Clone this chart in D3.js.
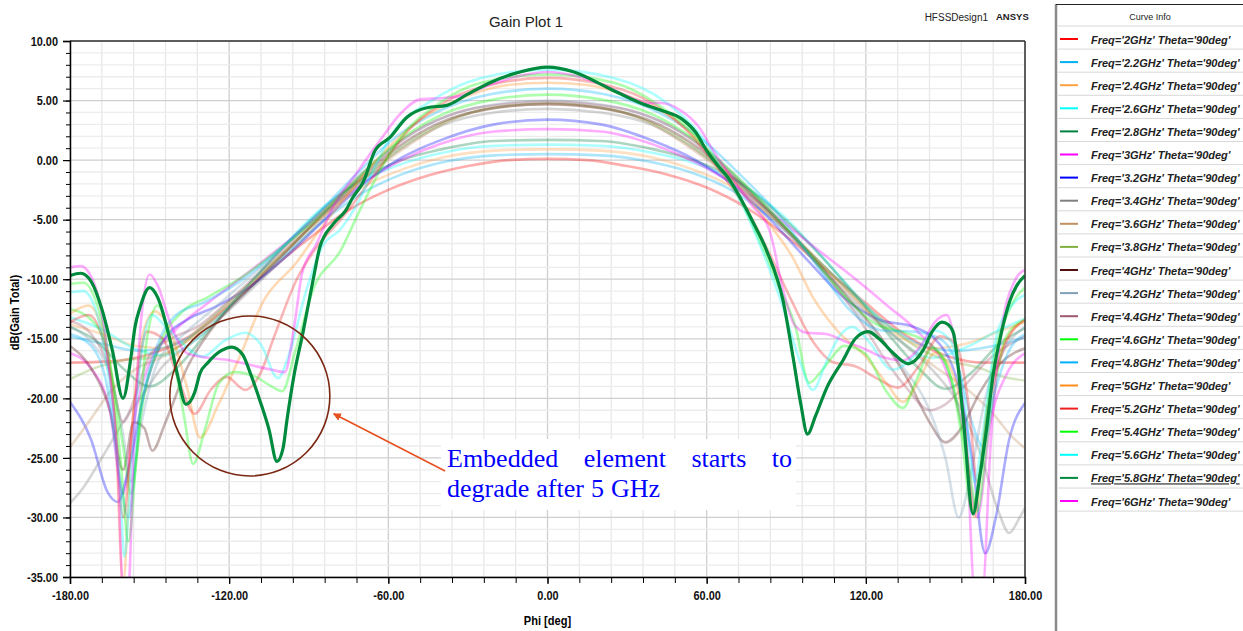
<!DOCTYPE html>
<html>
<head>
<meta charset="utf-8">
<script src="https://cdn.jsdelivr.net/npm/d3@7"></script>
<style>
  html, body { margin: 0; padding: 0; background: #fff; }
  svg { display: block; }
</style>
</head>
<body>
<svg id="chart" width="1243" height="631"></svg>
<script>
// Axis ticks
const phiTicks = [-180, -120, -60, 0, 60, 120, 180];
const dbTicks = [-35, -30, -25, -20, -15, -10, -5, 0, 5, 10];

// Legend entries and curve colours
const frequencies = ['2GHz', '2.2GHz', '2.4GHz', '2.6GHz', '2.8GHz', '3GHz', '3.2GHz', '3.4GHz',
  '3.6GHz', '3.8GHz', '4GHz', '4.2GHz', '4.4GHz', '4.6GHz', '4.8GHz', '5GHz', '5.2GHz',
  '5.4GHz', '5.6GHz', '5.8GHz', '6GHz'];
const curveColors = ['#ff0000', '#00b0f0', '#ffa040', '#00ffff', '#00803f', '#ff00ff', '#0000ff',
  '#808080', '#c09060', '#80b040', '#501010', '#80a0b8', '#a05870', '#00ff00', '#00b0ff',
  '#ff8c1a', '#ee2020', '#00ff00', '#00ffff', '#008a3e', '#ff00ff'];
const selectedFrequency = '5.8GHz';

// Gain (dB) versus phi (deg), Theta = 90deg
const gain2_0 = [[-180,-17],[-165,-16.9],[-150,-16.3],[-135,-14.8],[-120,-12.2],[-105,-9.3],[-90,-6.6],[-75,-4.2],[-60,-2.5],[-45,-1.3],[-30,-0.5],[-15,0],[0,0.1],[15,0],[30,-0.5],[45,-1.2],[60,-2.3],[75,-4],[90,-6.4],[105,-9.2],[120,-12],[135,-14.7],[150,-16.4],[165,-17],[180,-17]];
const gain2_2 = [[-180,-14.8],[-168,-15.4],[-155,-16],[-142,-15.6],[-128,-13.8],[-115,-11.3],[-100,-8.2],[-85,-5.2],[-70,-2.8],[-55,-1.2],[-40,-0.2],[-20,0.4],[0,0.5],[20,0.4],[40,-0.2],[55,-1.1],[70,-2.6],[85,-5],[100,-8],[115,-11.2],[128,-13.8],[142,-15.6],[155,-16],[168,-15.6],[180,-14.9]];
const gain2_4 = [[-180,-13.8],[-168,-14.6],[-155,-15.6],[-142,-15.8],[-130,-14.2],[-115,-11.2],[-100,-7.9],[-85,-4.8],[-70,-2.3],[-55,-0.8],[-40,0.2],[-20,0.8],[0,0.9],[20,0.8],[40,0.2],[55,-0.8],[70,-2.3],[85,-4.9],[100,-8],[115,-11.4],[130,-14.4],[145,-15.8],[158,-15.4],[170,-14.4],[180,-13.6]];
const gain2_6 = [[-180,-13.2],[-168,-14.2],[-156,-15.8],[-145,-16.4],[-132,-15],[-118,-11.8],[-103,-8.1],[-88,-4.6],[-72,-2],[-56,-0.4],[-40,0.6],[-20,1.2],[0,1.3],[20,1.2],[40,0.6],[56,-0.3],[72,-1.9],[88,-4.5],[103,-8],[118,-11.7],[132,-15],[145,-16.6],[157,-15.8],[170,-14.3],[180,-13.3]];
const gain2_8 = [[-180,-14],[-170,-15.2],[-160,-17.5],[-150,-19],[-140,-17.5],[-128,-14.4],[-114,-10.8],[-100,-7.4],[-85,-4.2],[-70,-1.6],[-55,0],[-40,0.9],[-20,1.6],[0,1.7],[20,1.6],[40,0.9],[55,0],[70,-1.5],[85,-4.1],[100,-7.3],[114,-10.8],[128,-14.5],[140,-17.5],[150,-19.2],[160,-17.8],[170,-15.5],[180,-14.1]];
const gain3_0 = [[-180,-16.2],[-172,-17.5],[-165,-21],[-160,-28],[-156,-22],[-150,-17],[-140,-14.2],[-128,-12],[-115,-9.8],[-100,-7.2],[-85,-4.5],[-70,-2],[-55,0],[-40,1.4],[-20,2.4],[0,2.6],[20,2.4],[40,1.3],[55,-0.1],[70,-2],[85,-4.5],[100,-7.2],[115,-9.8],[128,-12.2],[140,-14.5],[150,-17.5],[157,-23],[162,-30],[167,-22],[173,-18],[180,-16.2]];
const gain3_2 = [[-180,-20.3],[-172,-23.5],[-166,-27.8],[-162,-28.7],[-158,-26],[-152,-19.5],[-145,-15.2],[-135,-13.3],[-125,-12.3],[-112,-10.6],[-98,-8],[-84,-5],[-70,-2.1],[-55,0.2],[-40,1.7],[-20,3],[0,3.4],[20,3],[40,1.6],[55,0.1],[70,-2.1],[84,-5],[98,-8.4],[112,-11.6],[125,-13.4],[138,-14],[148,-15.5],[155,-19],[160,-25],[165,-33],[169,-30],[174,-23.5],[180,-20.4]];
const gain3_4 = [[-180,-28.8],[-175,-27.5],[-168,-25],[-160,-22],[-152,-19.5],[-145,-17.3],[-135,-15.5],[-122,-13],[-110,-10.5],[-96,-7.5],[-82,-4.3],[-68,-1.3],[-55,1],[-40,2.9],[-20,4],[0,4.3],[20,4],[40,2.9],[55,1],[68,-1.2],[82,-4.2],[96,-7.4],[110,-10.6],[122,-13.2],[135,-15.6],[145,-17.6],[155,-20.5],[163,-24.5],[170,-29.5],[174,-31.3],[178,-30],[180,-29.2]];
const gain3_6 = [[-180,-24.1],[-173,-22],[-165,-19.5],[-155,-17.5],[-145,-16.5],[-135,-15],[-122,-12.5],[-108,-9.6],[-94,-6.6],[-80,-3.8],[-66,-1],[-52,1.3],[-38,3.2],[-20,4.4],[0,4.7],[20,4.4],[38,3.2],[52,1.3],[66,-1],[80,-3.8],[94,-6.6],[108,-9.8],[122,-13],[135,-15.5],[147,-17.5],[158,-19.2],[168,-21.3],[175,-23.2],[180,-24.2]];
const gain3_8 = [[-180,-18.4],[-170,-17.4],[-160,-16.8],[-150,-16.6],[-140,-15.8],[-128,-13.5],[-115,-10.9],[-100,-7.9],[-86,-4.9],[-72,-2],[-58,0.6],[-44,2.6],[-25,4.2],[0,4.8],[25,4.2],[44,2.6],[58,0.6],[72,-2],[86,-4.9],[100,-8],[115,-11.2],[128,-13.8],[140,-15.8],[152,-16.9],[162,-17.4],[172,-18.2],[180,-18.5]];
const gain4_0 = [[-180,-15.6],[-172,-17.5],[-165,-21],[-160,-26],[-156,-22],[-152,-22.5],[-149,-24.4],[-144,-22],[-136,-17.5],[-126,-14],[-113,-10.9],[-99,-7.8],[-85,-4.6],[-71,-1.6],[-57,1],[-42,3],[-22,4.3],[0,4.7],[22,4.3],[42,3],[57,1],[71,-1.6],[85,-4.6],[99,-7.9],[113,-11.5],[126,-15],[136,-18.5],[144,-22],[150,-23.7],[156,-22.5],[163,-19.5],[171,-17],[180,-15.8]];
const gain4_2 = [[-180,-14],[-172,-15.3],[-165,-18],[-160,-23],[-157,-27],[-153,-22],[-147,-17],[-138,-14.8],[-126,-12.5],[-112,-9.8],[-98,-7],[-84,-4],[-70,-1.1],[-56,1.5],[-42,3.3],[-22,4.6],[0,5],[22,4.6],[42,3.3],[56,1.5],[70,-1.1],[84,-4.2],[98,-7.8],[110,-11],[122,-14.2],[134,-17.4],[144,-21],[150,-25],[155,-30],[159,-27],[165,-20],[172,-16],[180,-14]];
const gain4_4 = [[-180,-13.5],[-172,-14.6],[-165,-17.6],[-160,-22],[-156,-20.2],[-150,-16.4],[-142,-15],[-132,-14],[-120,-11.8],[-106,-8.9],[-92,-5.9],[-78,-2.9],[-64,0],[-50,2.4],[-34,4],[-16,4.7],[0,4.9],[16,4.7],[34,4],[50,2.4],[64,0],[78,-3],[92,-6.3],[106,-9.9],[118,-13.5],[128,-17],[136,-19.3],[144,-21],[150,-20.5],[157,-19],[166,-16.8],[174,-15.5],[180,-14.8]];
const gain4_6 = [[-180,-12.5],[-172,-13.4],[-166,-16],[-160,-24],[-157,-28],[-153,-21],[-146,-15.4],[-138,-12.8],[-128,-11.5],[-115,-9.8],[-100,-7.3],[-85,-4.5],[-70,-1.2],[-55,1.8],[-40,3.8],[-20,5.1],[0,5.5],[20,5.1],[40,3.8],[55,1.8],[70,-1.1],[85,-4.5],[100,-8.2],[112,-11.4],[124,-13.8],[135,-14.5],[145,-15.6],[153,-19],[159,-26],[162,-29.5],[166,-23],[173,-14.8],[180,-13.4]];
const gain4_8 = [[-180,-14.6],[-172,-15.6],[-166,-19],[-161,-27],[-158,-30],[-154,-22],[-147,-15.5],[-140,-13],[-130,-12],[-118,-10.5],[-103,-7.9],[-88,-4.8],[-73,-1.4],[-58,1.8],[-42,4],[-22,5.5],[0,6],[22,5.5],[42,4],[58,1.8],[73,-1.3],[88,-4.8],[102,-9],[114,-12.6],[126,-14.3],[138,-14.4],[148,-15],[155,-17.5],[160,-22],[164,-24],[168,-20],[174,-16],[180,-14.6]];
const gain5_0 = [[-180,-12.9],[-173,-12.2],[-167,-15],[-163,-22],[-160,-35.5],[-157,-24],[-153,-15],[-148,-12.7],[-142,-14.5],[-136,-19],[-131,-23.3],[-124,-20.5],[-116,-16.5],[-107,-11.8],[-95,-8.7],[-85,-5.6],[-75,-2.8],[-62,0.6],[-48,3.4],[-30,5.4],[-15,6.3],[0,6.5],[15,6.3],[30,5.4],[48,3.4],[62,0.5],[74,-2.8],[84,-5.5],[92,-8],[100,-11.5],[110,-14.5],[120,-16.5],[128,-18.8],[134,-20.3],[140,-18.5],[146,-16.2],[152,-17.5],[157,-22],[161,-30],[165,-22],[171,-16],[180,-13.4]];
const gain5_2 = [[-180,-13.6],[-173,-13],[-167,-15.5],[-163,-22],[-160,-30],[-156,-21],[-151,-14.4],[-145,-15],[-139,-18.5],[-133,-21.3],[-127,-19.3],[-121,-18.2],[-114,-19.3],[-108,-17.8],[-103.5,-15.1],[-94.5,-10],[-87,-7.3],[-78,-5],[-66,-1.5],[-52,2.6],[-36,5.2],[-18,6.5],[0,6.9],[18,6.5],[36,5.2],[52,2.6],[66,-1.2],[76,-4.5],[84,-8],[92,-11.8],[100,-15.2],[108,-17],[116,-17.3],[124,-18.3],[132,-19.1],[140,-17.3],[148,-14.8],[154,-15.5],[159,-21],[162,-27],[166,-21],[172,-15.8],[180,-13.4]];
const gain5_4 = [[-180,-10.4],[-175,-10.3],[-170,-12],[-165,-17],[-161,-25],[-158,-32],[-155,-25],[-151,-15],[-147,-12.2],[-142,-15.5],[-137,-21.5],[-133.6,-25.5],[-129,-22.5],[-124,-18.8],[-118,-17.8],[-110,-18.2],[-104,-19],[-100,-19.4],[-95,-16],[-88.4,-10.9],[-78,-7.6],[-70.7,-4.2],[-63,-0.8],[-55,2],[-42,4.6],[-25,6.5],[0,7.2],[25,6.5],[42,4.6],[55,2.2],[64,-0.3],[72,-3],[80,-6.8],[87,-10.5],[93.5,-14],[98.6,-18.7],[104,-17.5],[112,-15.6],[120,-16.3],[128,-19.5],[134,-20.8],[139,-18.5],[145,-15.8],[151,-17.5],[156,-23],[160,-29.5],[163,-26],[168,-17],[174,-12.6],[180,-10.7]];
const gain5_6 = [[-180,-11.1],[-175,-11],[-170,-12.8],[-165,-19],[-161,-28],[-159.5,-33.3],[-157,-26],[-153,-16],[-149,-13],[-144,-14],[-138,-15.3],[-130,-16.5],[-122,-15.2],[-114,-14.5],[-108,-15.5],[-101.6,-18.3],[-97,-16],[-91,-11],[-85,-7.3],[-78,-5.8],[-72,-3.8],[-66,-1],[-58,2.4],[-45,4.8],[-25,6.9],[0,7.6],[25,6.9],[45,4.8],[58,2],[66,-0.8],[74,-4],[82,-8.2],[89,-12.5],[95,-16.8],[100,-19.3],[105,-17],[110,-14.8],[115,-14],[121,-15.2],[130,-17.6],[138,-16.5],[146,-14.3],[152,-15.2],[157,-20],[161,-27],[164,-23],[169,-15],[175,-12.2],[180,-11.3]];
const gain5_8 = [[-180,-9.7],[-176,-9.5],[-172,-10.2],[-168,-12.5],[-164,-16],[-160,-20],[-157,-16.5],[-155.5,-14],[-153.5,-12.3],[-150,-10.7],[-147,-11.5],[-142.3,-15.1],[-139.5,-18],[-136.3,-20.5],[-133,-19.5],[-131,-17.9],[-128,-17],[-123,-16],[-119,-15.7],[-115,-16.3],[-112,-17.9],[-108.4,-20.2],[-105,-22.6],[-102,-25.3],[-99.7,-24.2],[-98.2,-21.8],[-95.5,-18],[-92.2,-14.5],[-88.4,-10.1],[-85.8,-7.3],[-80.9,-5.4],[-76,-4.2],[-73.3,-3.1],[-69.6,-1.9],[-65,0.8],[-59.4,1.9],[-53,3.6],[-45.5,4.4],[-37.9,4.6],[-30.4,5.5],[-21.7,6.5],[-10.4,7.4],[0,7.8],[10,7.4],[22.5,6.1],[35,4.8],[42.6,4.2],[51,3.4],[56,2.3],[60,0.8],[64,-0.4],[68.8,-1.7],[72.5,-3.1],[77,-5],[82.6,-7.6],[88.8,-11.8],[92.6,-16.6],[95.5,-20.5],[98,-23],[101,-21.5],[105.3,-19.1],[111.4,-16.8],[116,-15],[120.8,-14.4],[125,-15],[130.3,-16.2],[136,-17.1],[141.5,-16],[145,-14.4],[148.7,-13.6],[151,-13.8],[153,-14.5],[156.7,-21.6],[160.4,-29.7],[163,-26.5],[165.6,-22.4],[168,-18],[170.5,-15.1],[174.3,-11.8],[177,-10.5],[180,-9.7]];
const gain6_0 = [[-180,-9],[-176,-8.9],[-171,-10.3],[-166,-16],[-162,-26],[-160,-36],[-158,-36],[-156,-24],[-153,-13],[-150,-9.6],[-147,-10.5],[-142,-13.8],[-136,-16.2],[-128,-16.6],[-120,-16.8],[-112,-17.2],[-104,-17.6],[-99,-17.8],[-95.5,-14],[-92.5,-9.5],[-87,-7],[-81,-4],[-72,-1.1],[-63,1.7],[-55,4],[-48,5.1],[-40,5.2],[-32,5.4],[-22,6.3],[-10,7.1],[0,7.4],[10,7.1],[22,6.2],[32,5.2],[38,4.8],[43,4.8],[50,4.2],[57,2.8],[63,0.6],[70,-1.6],[77,-3.8],[83.7,-5.9],[88.6,-10.7],[93,-13.8],[97.6,-14.5],[105,-14.6],[112,-15.2],[118,-15.7],[126,-16.5],[134,-16.8],[141,-15.5],[146,-13.6],[150.5,-13],[154,-16],[158,-24],[161,-36],[164,-36],[167,-24],[171,-14.5],[176,-10.2],[180,-9.2]];

const gainSeries = [gain2_0, gain2_2, gain2_4, gain2_6, gain2_8, gain3_0, gain3_2, gain3_4, gain3_6,
  gain3_8, gain4_0, gain4_2, gain4_4, gain4_6, gain4_8, gain5_0, gain5_2, gain5_4, gain5_6,
  gain5_8, gain6_0];

// ---- layout ----
const svg = d3.select('#chart');
const plot = { left: 70, right: 1025, top: 41, bottom: 577 };
const x = d3.scaleLinear().domain([-180, 180]).range([plot.left, plot.right]);
const y = d3.scaleLinear().domain([-35, 10]).range([plot.bottom, plot.top]);
const labelFont = '"Liberation Sans", Arial, sans-serif';

// squeeze a text horizontally (narrow-font look)
function condense(sel, factor) {
  sel.each(function () {
    const w = this.getComputedTextLength();
    d3.select(this).attr('textLength', w * factor).attr('lengthAdjust', 'spacingAndGlyphs');
  });
}

// grid
const grid = svg.append('g');
grid.selectAll('line.vmin').data(d3.range(-180, 181, 12)).join('line')
  .attr('x1', d => x(d)).attr('x2', d => x(d)).attr('y1', plot.top).attr('y2', plot.bottom)
  .attr('stroke', d => d % 60 === 0 ? '#cfcfcf' : '#e8e8e8').attr('stroke-width', 1.3);
grid.selectAll('line.hmin').data(d3.range(-35, 11, 1)).join('line')
  .attr('y1', d => y(d)).attr('y2', d => y(d)).attr('x1', plot.left).attr('x2', plot.right)
  .attr('stroke', d => d % 5 === 0 ? '#cfcfcf' : '#ececec').attr('stroke-width', 1.3);

// curves
svg.append('clipPath').attr('id', 'plotClip').append('rect')
  .attr('x', plot.left).attr('y', plot.top)
  .attr('width', plot.right - plot.left).attr('height', plot.bottom - plot.top);
const line = d3.line().x(d => x(d[0])).y(d => y(d[1])).curve(d3.curveMonotoneX);
const curves = svg.append('g').attr('clip-path', 'url(#plotClip)');
const order = d3.range(gainSeries.length).filter(i => frequencies[i] !== selectedFrequency)
  .concat(frequencies.indexOf(selectedFrequency));
order.forEach(i => {
  const sel = frequencies[i] === selectedFrequency;
  curves.append('path').datum(gainSeries[i])
    .attr('d', line).attr('fill', 'none')
    .attr('stroke', curveColors[i])
    .attr('stroke-opacity', sel ? 1 : 0.32)
    .attr('stroke-width', sel ? 3.2 : 2.6)
    .attr('stroke-linejoin', 'round');
});

// frame
svg.append('line').attr('x1', plot.left).attr('x2', plot.right).attr('y1', plot.top).attr('y2', plot.top)
  .attr('stroke', '#333').attr('stroke-width', 1.5);
svg.append('line').attr('x1', plot.right).attr('x2', plot.right).attr('y1', plot.top).attr('y2', plot.bottom)
  .attr('stroke', '#333').attr('stroke-width', 1.5);

// axes
const styleAxis = g => {
  g.select('.domain').attr('stroke', '#000').attr('stroke-width', 1.5);
  g.selectAll('.tick line').attr('stroke', '#000').attr('stroke-width', 1.2);
  g.selectAll('.tick text').attr('font-family', labelFont).attr('font-weight', 'bold')
    .attr('font-size', 13).attr('fill', '#111').call(condense, 0.84);
};
svg.append('g').attr('transform', `translate(${plot.left},0)`)
  .call(d3.axisLeft(y).tickValues(d3.range(-35, 11, 1)).tickSize(4).tickFormat(''))
  .call(g => g.select('.domain').remove())
  .selectAll('line').attr('stroke', '#000');
svg.append('g').attr('transform', `translate(${plot.left},0)`)
  .call(d3.axisLeft(y).tickValues(dbTicks).tickSize(7).tickPadding(5).tickFormat(d => d.toFixed(2)))
  .call(styleAxis);
svg.append('g').attr('transform', `translate(0,${plot.bottom})`)
  .call(d3.axisBottom(x).tickValues(d3.range(-180, 181, 12)).tickSize(6).tickFormat(''))
  .call(g => g.select('.domain').remove())
  .selectAll('line').attr('stroke', '#000');
svg.append('g').attr('transform', `translate(0,${plot.bottom})`)
  .call(d3.axisBottom(x).tickValues(phiTicks).tickSize(7).tickPadding(7).tickFormat(d => d.toFixed(2)))
  .call(styleAxis);

// axis titles
svg.append('text').attr('x', x(0)).attr('y', 625).attr('text-anchor', 'middle')
  .attr('font-family', labelFont).attr('font-weight', 'bold').attr('font-size', 13)
  .text('Phi [deg]').call(condense, 0.85);
svg.append('text').attr('transform', `translate(19,${y(-12.8)}) rotate(-90)`).attr('text-anchor', 'middle')
  .attr('font-family', labelFont).attr('font-weight', 'bold').attr('font-size', 13)
  .text('dB(Gain Total)').call(condense, 0.85);

// header
svg.append('text').attr('x', 526).attr('y', 27).attr('text-anchor', 'middle')
  .attr('font-family', labelFont).attr('font-size', 15).attr('fill', '#222')
  .text('Gain Plot 1');
svg.append('text').attr('x', 988).attr('y', 21).attr('text-anchor', 'end')
  .attr('font-family', labelFont).attr('font-size', 10).attr('fill', '#222')
  .text('HFSSDesign1');
svg.append('text').attr('x', 996).attr('y', 20)
  .attr('font-family', labelFont).attr('font-weight', 'bold').attr('font-size', 9.5).attr('fill', '#222')
  .text('ANSYS');

// legend panel
const lg = svg.append('g');
lg.append('line').attr('x1', 1056).attr('x2', 1056).attr('y1', 4).attr('y2', 631)
  .attr('stroke', '#8a8a8a').attr('stroke-width', 2.5);
lg.append('line').attr('x1', 1056).attr('x2', 1243).attr('y1', 4.5).attr('y2', 4.5)
  .attr('stroke', '#222').attr('stroke-width', 1.2);
lg.append('text').attr('x', 1150).attr('y', 20).attr('text-anchor', 'middle')
  .attr('font-family', labelFont).attr('font-size', 9).attr('fill', '#222')
  .text('Curve Info');
const rowH = 23.1;
lg.selectAll('line.sep').data(d3.range(frequencies.length + 1)).join('line')
  .attr('x1', 1058).attr('x2', 1243)
  .attr('y1', k => 26 + rowH * k).attr('y2', k => 26 + rowH * k)
  .attr('stroke', '#d8d8d8').attr('stroke-width', 1);
const rows = lg.selectAll('g.row').data(frequencies).join('g')
  .attr('transform', (d, i) => `translate(0,${39 + rowH * i})`);
rows.append('line').attr('x1', 1060).attr('x2', 1078).attr('y1', 0).attr('y2', 0)
  .attr('stroke', (d, i) => curveColors[i]).attr('stroke-width', 2);
rows.append('text').attr('x', 1091).attr('y', 4.5)
  .attr('font-family', labelFont).attr('font-weight', 'bold').attr('font-style', 'italic')
  .attr('font-size', 11).attr('fill', '#222')
  .attr('text-decoration', d => d === selectedFrequency ? 'underline' : null)
  .text(d => `Freq='${d}' Theta='90deg'`);

// annotation: circled region, arrow and note
const ann = svg.append('g');
ann.append('circle').attr('cx', x(-112.2)).attr('cy', y(-19.8)).attr('r', 80)
  .attr('fill', 'none').attr('stroke', '#7a2812').attr('stroke-width', 1.6);
svg.append('defs').append('marker').attr('id', 'arrowHead')
  .attr('viewBox', '0 0 10 10').attr('refX', 9).attr('refY', 5)
  .attr('markerWidth', 5).attr('markerHeight', 5).attr('orient', 'auto')
  .append('path').attr('d', 'M0,0 L10,5 L0,10 Z').attr('fill', '#e8501e');
ann.append('rect').attr('x', 441).attr('y', 439).attr('width', 355).attr('height', 71).attr('fill', '#fff');
ann.append('line').attr('x1', x(-38.6)).attr('y1', y(-26.1)).attr('x2', x(-80.6)).attr('y2', y(-21.3))
  .attr('stroke', '#e8501e').attr('stroke-width', 1.6).attr('marker-end', 'url(#arrowHead)');

const noteFont = '"Liberation Serif", "Times New Roman", serif';
const noteLines = [['Embedded', 'element', 'starts', 'to'], ['degrade', 'after', '5', 'GHz']];
const noteLeft = 447, noteRight = 792;
noteLines.forEach((words, li) => {
  const gLine = ann.append('g');
  const texts = words.map(w => gLine.append('text').attr('y', 467 + li * 30)
    .attr('font-family', noteFont).attr('font-size', 26).attr('fill', '#0000ff').text(w));
  const widths = texts.map(t => t.node().getComputedTextLength());
  const total = d3.sum(widths);
  const gap = li === 0 ? (noteRight - noteLeft - total) / (words.length - 1) : 7;
  let cx = noteLeft;
  texts.forEach((t, k) => { t.attr('x', cx); cx += widths[k] + gap; });
});
</script>
</body>
</html>
